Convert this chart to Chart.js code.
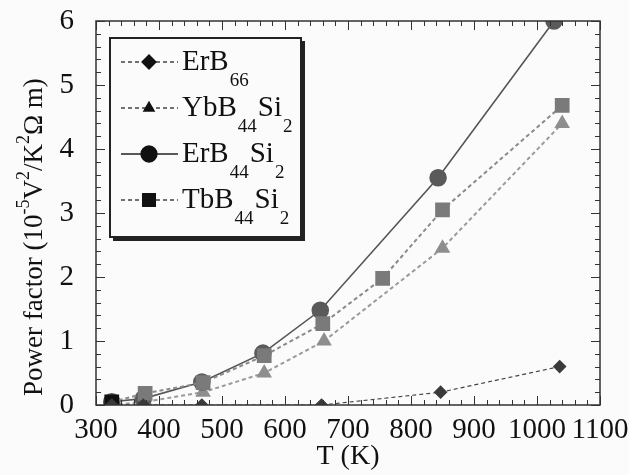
<!DOCTYPE html>
<html>
<head>
<meta charset="utf-8">
<script src="https://cdn.jsdelivr.net/npm/chart.js@4"></script>
<style>
  html, body { margin: 0; padding: 0; background: #fbfbfb; }
  #wrap { width: 629px; height: 475px; position: relative; }
</style>
</head>
<body>
<div id="wrap"><canvas id="chart" width="629" height="475"></canvas></div>
<script>
// data
const tempErB66 = [325, 375, 468, 658, 847, 1036];
const pfErB66 = [0, 0, 0, 0, 0.2, 0.6];

const tempYb = [325, 378, 470, 567, 662, 850, 1040];
const pfYb = [0, 0.05, 0.2, 0.5, 1.0, 2.45, 4.4];

const tempEr = [325, 375, 468, 565, 656, 843, 1027];
const pfEr = [0.05, 0.1, 0.36, 0.81, 1.48, 3.55, 6.0];

const tempTb = [325, 378, 470, 567, 660, 755, 850, 1040];
const pfTb = [0.05, 0.18, 0.35, 0.77, 1.27, 1.98, 3.05, 4.68];

const xTicks = [300, 400, 500, 600, 700, 800, 900, 1000, 1100];
const yTicks = [0, 1, 2, 3, 4, 5, 6];

const serif = "'Liberation Serif', 'Times New Roman', serif";

const pts = (xs, ys) => xs.map((x, i) => ({ x: x, y: ys[i] }));

// legend entries: text parts [text, isSub]
const legendItems = [
  { parts: [["ErB", 0], ["66", 1]], style: "rectRot", color: "#111", line: "#444", dash: [4, 3], r: 7 },
  { parts: [["YbB", 0], ["44", 1], ["Si", 0], ["2", 1]], style: "triangle", color: "#111", line: "#444", dash: [4, 3], r: 6 },
  { parts: [["ErB", 0], ["44", 1], ["Si", 0], ["2", 1]], style: "circle", color: "#111", line: "#222", dash: [], r: 8 },
  { parts: [["TbB", 0], ["44", 1], ["Si", 0], ["2", 1]], style: "rect", color: "#111", line: "#444", dash: [4, 3], r: 9 }
];

const decorPlugin = {
  id: "decor",
  afterDraw(chart) {
    const ctx = chart.ctx;
    const a = chart.chartArea;
    const xs = chart.scales.x, ys = chart.scales.y;

    // inward ticks on all four sides
    ctx.save();
    ctx.strokeStyle = "#333";
    ctx.lineWidth = 1;
    for (let v = 300; v <= 1100; v += 20) {
      const px = Math.round(xs.getPixelForValue(v)) + 0.5;
      const len = (v % 100 === 0) ? 9 : 5;
      ctx.beginPath();
      ctx.moveTo(px, a.bottom); ctx.lineTo(px, a.bottom - len);
      ctx.moveTo(px, a.top); ctx.lineTo(px, a.top + len);
      ctx.stroke();
    }
    for (let i = 0; i <= 30; i++) {
      const v = i * 0.2;
      const py = Math.round(ys.getPixelForValue(v)) + 0.5;
      const len = (i % 5 === 0) ? 9 : 5;
      ctx.beginPath();
      ctx.moveTo(a.left, py); ctx.lineTo(a.left + len, py);
      ctx.moveTo(a.right, py); ctx.lineTo(a.right - len, py);
      ctx.stroke();
    }
    ctx.lineWidth = 1.5;
    ctx.strokeRect(a.left, a.top, a.right - a.left, a.bottom - a.top);
    ctx.restore();

    // y title with superscripts
    ctx.save();
    ctx.translate(35, 396);
    ctx.rotate(-Math.PI / 2);
    ctx.fillStyle = "#111";
    ctx.textBaseline = "middle";
    const segs = [["Power factor (10", 0], ["-5", 1], ["V", 0], ["2", 1], ["/K", 0], ["2", 1], ["\u03A9 m)", 0]];
    let x = 0;
    segs.forEach(([t, sup]) => {
      ctx.font = (sup ? "18px " : "27px ") + serif;
      ctx.fillText(t, x, sup ? -11 : 0);
      x += ctx.measureText(t).width;
    });
    ctx.restore();

    // legend box
    ctx.save();
    ctx.fillStyle = "#222";
    ctx.fillRect(113, 41, 192, 200);
    ctx.fillStyle = "#fbfbfb";
    ctx.fillRect(110, 38, 191, 199);
    ctx.strokeStyle = "#222";
    ctx.lineWidth = 2;
    ctx.strokeRect(110, 38, 191, 199);
    const rowY = [62, 108, 154, 200];
    legendItems.forEach((it, i) => {
      const y = rowY[i];
      ctx.strokeStyle = it.line;
      ctx.lineWidth = 1.3;
      ctx.setLineDash(it.dash);
      ctx.beginPath();
      ctx.moveTo(121, y); ctx.lineTo(178, y);
      ctx.stroke();
      ctx.setLineDash([]);
      ctx.fillStyle = it.color;
      ctx.strokeStyle = it.color;
      Chart.helpers.drawPoint(ctx, { pointStyle: it.style, radius: it.r, borderWidth: 1 }, 149, y);
      ctx.fillStyle = "#111";
      ctx.textBaseline = "middle";
      let tx = 182;
      it.parts.forEach(([t, sub]) => {
        ctx.font = (sub ? "19px " : "29px ") + serif;
        ctx.fillText(t, tx, sub ? y + 19 : y);
        tx += ctx.measureText(t).width + 1;
      });
    });
    ctx.restore();
  }
};

function draw() {
  new Chart(document.getElementById("chart"), {
    type: "scatter",
    data: {
      datasets: [
        {
          label: "ErB66", data: pts(tempErB66, pfErB66), showLine: true, order: 0,
          borderColor: "#444", borderWidth: 1.2, borderDash: [4, 3],
          pointStyle: "rectRot", pointRadius: 6, backgroundColor: "#3a3a3a", pointBorderColor: "#3a3a3a"
        },
        {
          label: "YbB44Si2", data: pts(tempYb, pfYb), showLine: true, order: 3,
          borderColor: "#9a9a9a", borderWidth: 2, borderDash: [4, 3],
          pointStyle: "triangle", pointRadius: 7, backgroundColor: "#8e8e8e", pointBorderColor: "#8e8e8e"
        },
        {
          label: "ErB44Si2", data: pts(tempEr, pfEr), showLine: true, order: 2,
          borderColor: "#555", borderWidth: 1.6,
          pointStyle: "circle", pointRadius: 8, backgroundColor: "#5a5a5a", pointBorderColor: "#5a5a5a"
        },
        {
          label: "TbB44Si2", data: pts(tempTb, pfTb), showLine: true, order: 1,
          borderColor: "#8a8a8a", borderWidth: 2, borderDash: [4, 3],
          pointStyle: "rect", pointRadius: 9,
          backgroundColor: (c) => c.dataIndex === 0 ? "#111" : "#7a7a7a",
          pointBorderColor: (c) => c.dataIndex === 0 ? "#111" : "#7a7a7a"
        }
      ]
    },
    options: {
      responsive: false,
      animation: false,
      layout: { padding: { top: 21, right: 29, left: 0, bottom: 0 } },
      plugins: { legend: { display: false }, tooltip: { enabled: false } },
      scales: {
        x: {
          type: "linear", min: 300, max: 1100,
          afterBuildTicks: (s) => { s.ticks = xTicks.map(v => ({ value: v })); },
          afterFit: (s) => { s.height = 70; s.paddingLeft = 0; s.paddingRight = 0; },
          grid: { display: false },
          border: { display: false },
          ticks: { color: "#111", font: { family: serif, size: 29 }, padding: 0, maxRotation: 0, callback: (v) => String(v) },
          title: { display: true, text: "T (K)", color: "#111", font: { family: serif, size: 28 }, padding: { top: 0, bottom: 2 } }
        },
        y: {
          min: 0, max: 6,
          afterBuildTicks: (s) => { s.ticks = yTicks.map(v => ({ value: v })); },
          afterFit: (s) => { s.width = 96; s.paddingTop = 0; s.paddingBottom = 0; },
          grid: { display: false },
          border: { display: false },
          ticks: { color: "#111", font: { family: serif, size: 29 }, padding: 14, callback: (v) => String(v) }
        }
      }
    },
    plugins: [decorPlugin]
  });
}

Promise.all([
  document.fonts.load("29px 'Liberation Serif'"),
  document.fonts.load("19px 'Liberation Serif'")
]).then(draw, draw);
</script>
</body>
</html>
